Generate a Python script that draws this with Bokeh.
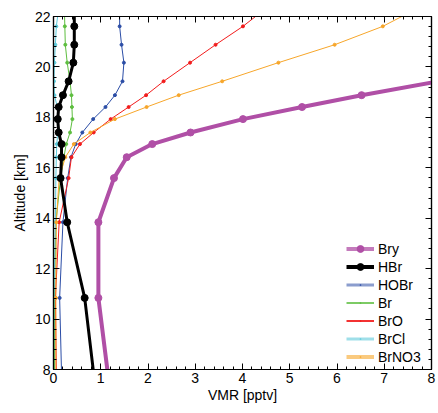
from bokeh.plotting import figure
from bokeh.models import LinearAxis, Range1d, Legend, LegendItem, SingleIntervalTicker
from bokeh.embed import file_html
from bokeh.resources import INLINE

# Altitude levels [km]
alt = [7.84, 10.84, 13.84, 15.59, 16.42, 16.94, 17.40, 17.93, 18.41, 18.88,
       19.43, 20.17, 20.88, 21.61, 22.33]

# VMR [pptv]
bry = [1.15, 0.95, 0.95, 1.28, 1.55, 2.09, 2.90, 4.01, 5.26, 6.52, 8.15]
hbr = [0.85, 0.66, 0.29, 0.15, 0.17, 0.17, 0.11, 0.09, 0.11, 0.20, 0.32, 0.42, 0.44, 0.44, 0.44]
hobr = [0.17, 0.13, 0.20, 0.30, 0.37, 0.47, 0.61, 0.84, 1.10, 1.30, 1.46, 1.49, 1.44, 1.40, 1.40]
br = [0.02, 0.02, 0.05, 0.15, 0.22, 0.27, 0.35, 0.40, 0.39, 0.38, 0.35, 0.29, 0.25, 0.24, 0.23]
bro = [0.06, 0.04, 0.12, 0.32, 0.38, 0.56, 0.85, 1.21, 1.59, 1.96, 2.33, 2.89, 3.43, 4.01, 4.50]
brcl = [0.00, 0.01, 0.04, 0.05, 0.06, 0.07, 0.09, 0.11, 0.08, 0.02, 0.01, 0.02, 0.04, 0.06, 0.11]
brno3 = [0.05, 0.05, 0.06, 0.12, 0.25, 0.43, 0.78, 1.30, 1.97, 2.65, 3.57, 4.76, 5.95, 6.97, 7.71]

x_ticks = [0, 1, 2, 3, 4, 5, 6, 7, 8]
y_ticks = [8, 10, 12, 14, 16, 18, 20, 22]

names = ["Bry", "HBr", "HOBr", "Br", "BrO", "BrCl", "BrNO3"]
series = [bry, hbr, hobr, br, bro, brcl, brno3]
colors = ["#B04FA6", "#000000", "#2B4DA6", "#5DBE3F", "#F21C1C", "#5FCADB", "#F7A62A"]
widths = [4, 3, 1, 1, 1, 1, 1]
msizes = [7, 7, 3, 3, 3, 3, 3]
lwidths = [4, 4, 3, 2, 2, 3, 4]
lalpha = [0.75, 1.0, 0.55, 0.8, 0.9, 0.6, 0.6]
lmarkers = ["circle", "circle", "dot", "dot", "dot", "dot", "dot"]
draw_order = [2, 3, 4, 5, 6, 0, 1]

FONT = "Liberation Sans"

p = figure(width=436, height=405, output_backend="svg", toolbar_location=None,
           x_range=Range1d(0, 8), y_range=Range1d(8, 22),
           min_border_left=53, min_border_right=5, min_border_top=16, min_border_bottom=33,
           x_axis_label="VMR [pptv]", y_axis_label="Altitude [km]")
p.grid.visible = False
p.outline_line_color = "black"
p.outline_line_width = 1.2

bottom = p.below[0]
left = p.left[0]
bottom.ticker = SingleIntervalTicker(interval=1, num_minor_ticks=5)
left.ticker = SingleIntervalTicker(interval=2, num_minor_ticks=5)

top = LinearAxis(ticker=SingleIntervalTicker(interval=1, num_minor_ticks=5))
right = LinearAxis(ticker=SingleIntervalTicker(interval=2, num_minor_ticks=5))
p.add_layout(top, "above")
p.add_layout(right, "right")

for ax in [bottom, left, top, right]:
    ax.major_tick_in = 6
    ax.major_tick_out = 0
    ax.minor_tick_in = 3
    ax.minor_tick_out = 0
    ax.axis_line_color = "black"
    ax.axis_line_width = 1.2
    ax.major_tick_line_color = "black"
    ax.minor_tick_line_color = "black"
    ax.major_label_text_font = FONT
    ax.major_label_text_font_size = "14px"
    ax.major_label_text_color = "black"
    ax.axis_label_text_font = FONT
    ax.axis_label_text_font_size = "14px"
    ax.axis_label_text_font_style = "normal"
    ax.axis_label_text_color = "black"

top.major_label_overrides = {t: "" for t in x_ticks}
right.major_label_overrides = {t: "" for t in y_ticks}
for ax in [top, right]:
    ax.major_label_text_font_size = "1px"
    ax.major_label_standoff = 0

bottom.major_label_standoff = 3
bottom.axis_label_standoff = 1
left.major_label_standoff = 3
left.axis_label_standoff = 4

# data lines (thin species first, Bry and HBr on top)
for i in draw_order:
    vals, c = series[i], colors[i]
    a = alt[:len(vals)]
    p.line(vals, a, line_color=c, line_width=widths[i])
    p.scatter(vals, a, marker="circle", size=msizes[i], fill_color=c, line_color=c)

# legend proxies (placed outside the visible range)
items = []
for name, c, lw, la, lm in zip(names, colors, lwidths, lalpha, lmarkers):
    r1 = p.line([-10, -9], [0, 0], line_color=c, line_width=lw, line_alpha=la)
    r2 = p.scatter([-10], [0], marker=lm, size=6, fill_color=c, line_color=c,
                   line_width=2 if lm == "dot" else 1)
    items.append(LegendItem(label=name, renderers=[r1, r2]))

legend = Legend(items=items, location=(293, 4), border_line_alpha=0,
                background_fill_alpha=0, padding=0, margin=0, spacing=1,
                glyph_width=28, glyph_height=17, label_height=17, label_standoff=4,
                label_text_font=FONT, label_text_font_size="14px", label_text_color="black")
p.add_layout(legend)

open("out.html", "w").write(file_html(p, INLINE))
